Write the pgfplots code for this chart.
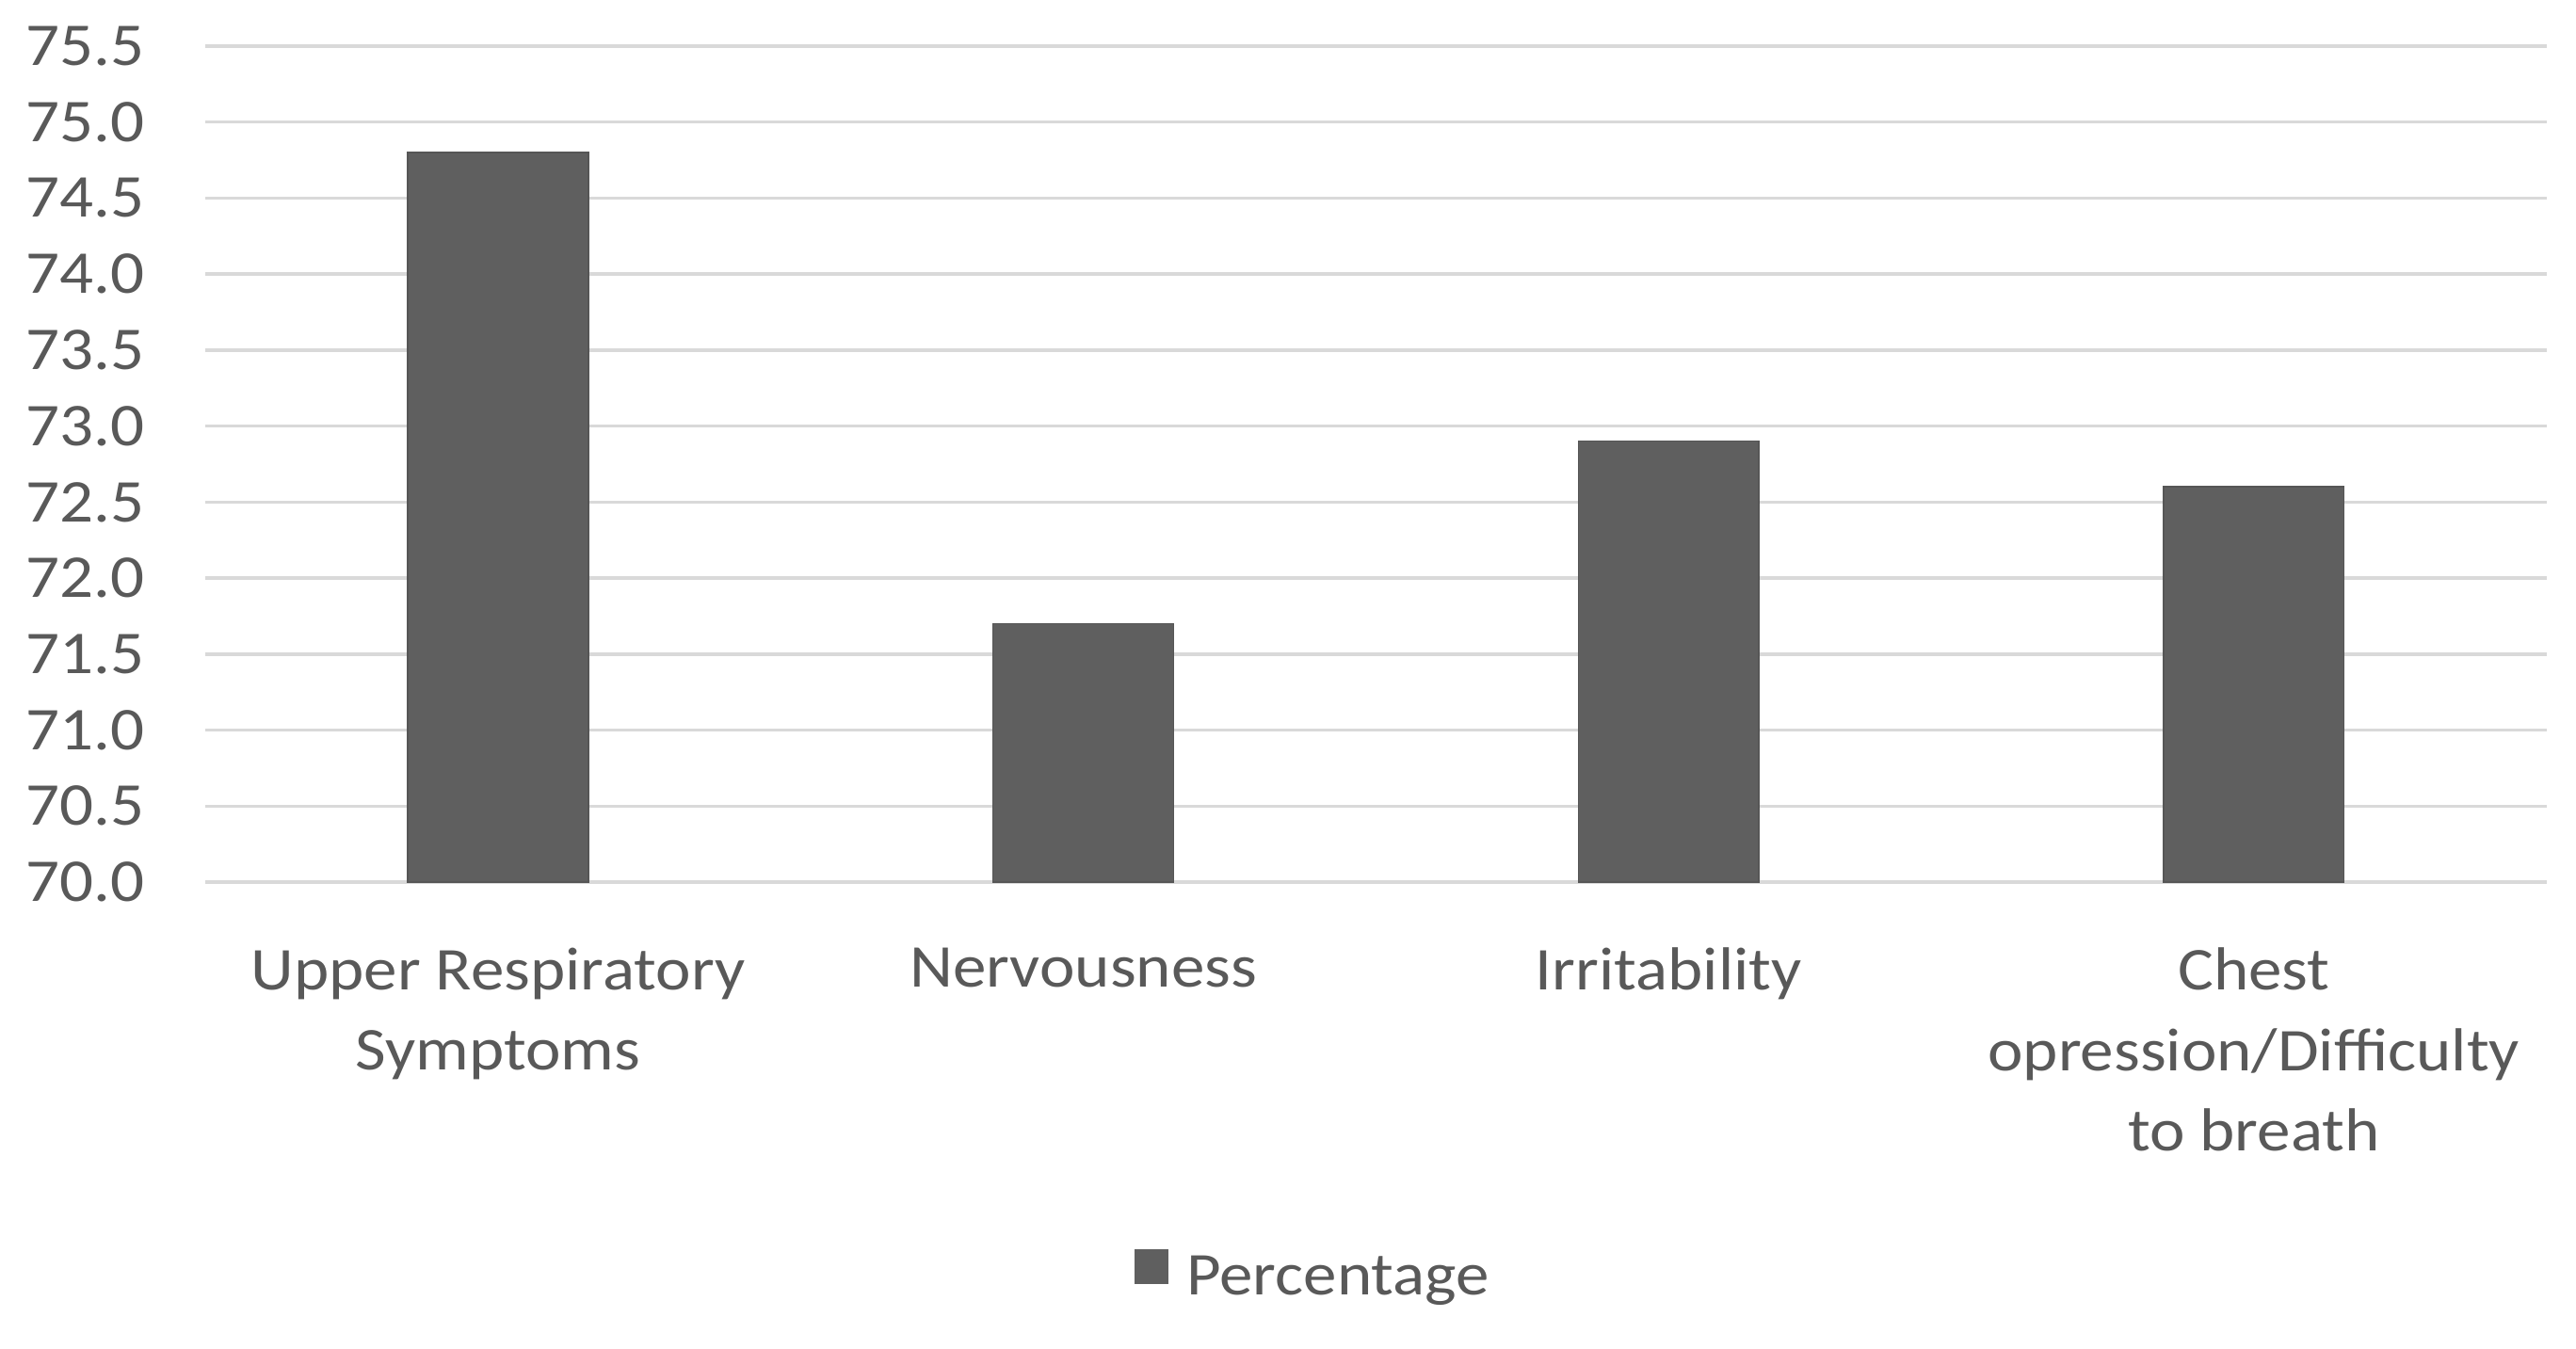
\documentclass[border=0pt]{standalone}
\usepackage{pgfplots}
\pgfplotsset{compat=1.18}
\usepackage{fontspec}
\setmainfont{Carlito}[FakeStretch=1.1]
\definecolor{barc}{HTML}{5F5F5F}
\definecolor{txt}{HTML}{595959}
\definecolor{gridc}{HTML}{D9D9D9}
\begin{document}
\begin{tikzpicture}
\path[use as bounding box] (-62.5pt,-142pt) rectangle (721.5pt,268.5pt);
\begin{axis}[
  at={(0,0)}, anchor=south west,
  scale only axis, width=712.5pt, height=254.5pt,
  xmin=-0.5, xmax=3.5, ymin=70, ymax=75.5,
  ytick distance=0.5,
  axis line style={draw=none},
  ymajorgrids, grid style={gridc, line width=1pt},
  major tick length=0pt,
  tick style={draw=none},
  font=\fontsize{18.5}{24.5}\selectfont,
  /pgf/number format/assume math mode=true,
  yticklabel style={/pgf/number format/fixed, /pgf/number format/fixed zerofill, /pgf/number format/precision=1},
  ticklabel style={text=txt},
  yticklabel style={anchor=east, xshift=-15pt},
  xtick=data,
  xticklabels={{Upper Respiratory\\Symptoms},{Nervousness},{Irritability},{Chest\\opression/Difficulty\\to breath}},
  xticklabel style={align=center, anchor=north, yshift=-16.5pt},
  ybar, bar width=55pt,
  clip=false,
  legend style={at={(0.474,-0.4735)}, anchor=center, draw=none, fill=none, text=txt, font=\fontsize{18.5}{20}\selectfont},
  legend image code/.code={\fill[barc] (0pt,-1.5pt) rectangle (10pt,8.5pt);},
]
\addplot[fill=barc, draw=barc!90!black, line width=0.4pt] coordinates {(0,74.8) (1,71.7) (2,72.9) (3,72.6)};
\addlegendentry{\hspace{3.5pt}Percentage}
\end{axis}
\end{tikzpicture}
\end{document}
